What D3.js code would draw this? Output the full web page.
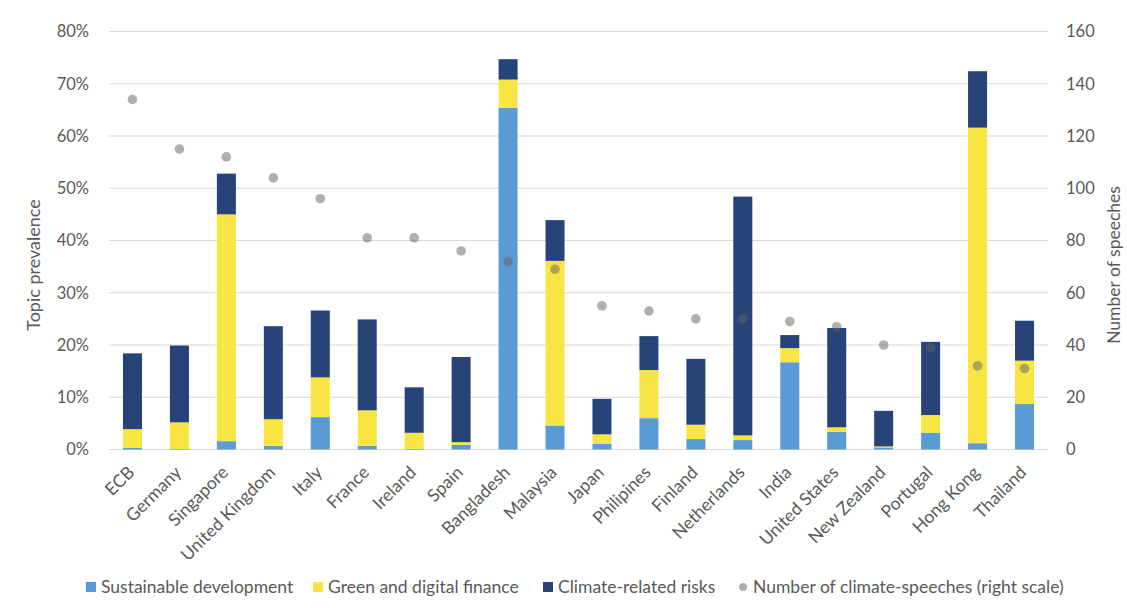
<!DOCTYPE html>
<html>
<head>
<meta charset="utf-8">
<script src="https://cdn.jsdelivr.net/npm/d3@7"></script>
<style>
  body { margin: 0; background: #fff; }
  svg text { font-family: "Lato", "Open Sans", sans-serif; fill: #595959; }
</style>
</head>
<body>
<div id="chart"></div>
<script>
// categories and series (% topic prevalence, right axis = number of speeches)
var countries = ["ECB", "Germany", "Singapore", "United Kingdom", "Italy", "France", "Ireland", "Spain",
  "Bangladesh", "Malaysia", "Japan", "Philipines", "Finland", "Netherlands", "India", "United States",
  "New Zealand", "Portugal", "Hong Kong", "Thailand"];
var sustainable = [0.3, 0.1, 1.6, 0.7, 6.2, 0.7, 0.1, 0.9, 65.4, 4.6, 1.1, 6.0, 2.0, 1.8, 16.7, 3.4, 0.4, 3.2, 1.2, 8.7];
var greenDigital = [3.6, 5.1, 43.4, 5.1, 7.6, 6.8, 3.1, 0.5, 5.4, 31.5, 1.8, 9.2, 2.75, 0.9, 2.7, 0.85, 0.2, 3.4, 60.4, 8.3];
var climateRisk = [14.5, 14.7, 7.8, 17.8, 12.8, 17.4, 8.7, 16.3, 3.9, 7.8, 6.8, 6.5, 12.6, 45.7, 2.5, 19.0, 6.8, 14.0, 10.8, 7.65];
var speeches = [134, 115, 112, 104, 96, 81, 81, 76, 72, 69, 55, 53, 50, 50, 49, 47, 40, 39, 32, 31];
var leftTicks = [0, 10, 20, 30, 40, 50, 60, 70, 80];
var rightTicks = [0, 20, 40, 60, 80, 100, 120, 140, 160];

var seriesNames = ["Sustainable development", "Green and digital finance", "Climate-related risks"];
var seriesColors = ["#5b9bd5", "#f8e543", "#264478"];

var width = 1127, height = 608;
var margin = { top: 31.5, bottom: 158.5, left: 109, right: 79 };

var svg = d3.select("#chart").append("svg")
  .attr("width", width)
  .attr("height", height);

var x = d3.scaleBand()
  .domain(countries)
  .range([margin.left, width - margin.right])
  .paddingInner(0.595)
  .paddingOuter(0.2975);

var y = d3.scaleLinear().domain([0, 80]).range([height - margin.bottom, margin.top]);
var y2 = d3.scaleLinear().domain([0, 160]).range([height - margin.bottom, margin.top]);

// gridlines
svg.append("g")
  .selectAll("line")
  .data(leftTicks)
  .enter().append("line")
  .attr("x1", margin.left)
  .attr("x2", width - margin.right)
  .attr("y1", d => y(d))
  .attr("y2", d => y(d))
  .attr("stroke", "#d9d9d9")
  .attr("stroke-width", 1);

// stacked bars
var rows = countries.map((c, i) => ({ country: c, s0: sustainable[i], s1: greenDigital[i], s2: climateRisk[i] }));
var stack = d3.stack().keys(["s0", "s1", "s2"])(rows);

svg.append("g")
  .selectAll("g")
  .data(stack)
  .enter().append("g")
  .attr("fill", (d, i) => seriesColors[i])
  .selectAll("rect")
  .data(d => d)
  .enter().append("rect")
  .attr("x", d => x(d.data.country))
  .attr("width", x.bandwidth())
  .attr("y", d => y(d[1]))
  .attr("height", d => y(d[0]) - y(d[1]));

// speeches dots (right scale), semi-transparent
svg.append("g")
  .selectAll("circle")
  .data(speeches)
  .enter().append("circle")
  .attr("cx", (d, i) => x(countries[i]) + x.bandwidth() / 2)
  .attr("cy", d => y2(d))
  .attr("r", 4.8)
  .attr("fill", "#626262")
  .attr("fill-opacity", 0.5);

// left axis
var yAxis = svg.append("g")
  .attr("transform", `translate(${margin.left - 17},0)`)
  .call(d3.axisLeft(y).tickValues(leftTicks).tickFormat(d => d + "%").tickSize(0));
yAxis.select(".domain").remove();
yAxis.selectAll("text").attr("font-size", 16.5).attr("fill", "#595959");

// right axis
var y2Axis = svg.append("g")
  .attr("transform", `translate(${width - margin.right + 15},0)`)
  .call(d3.axisRight(y2).tickValues(rightTicks).tickSize(0));
y2Axis.select(".domain").remove();
y2Axis.selectAll("text").attr("font-size", 16.5).attr("fill", "#595959");

// x axis labels, rotated
var xAxis = svg.append("g")
  .attr("transform", `translate(0,${height - margin.bottom})`)
  .call(d3.axisBottom(x).tickSize(0));
xAxis.select(".domain").remove();
xAxis.selectAll("text")
  .attr("font-size", 17.5)
  .attr("fill", "#595959")
  .style("text-anchor", "end")
  .attr("x", 0)
  .attr("y", 0)
  .attr("dy", 0)
  .attr("transform", "translate(3,24) rotate(-45)");

// axis titles
var titleY = 265;
svg.append("text")
  .attr("transform", `translate(40,${titleY}) rotate(-90)`)
  .attr("text-anchor", "middle")
  .attr("font-size", 18)
  .text("Topic prevalence");

svg.append("text")
  .attr("transform", `translate(1120,${titleY}) rotate(-90)`)
  .attr("text-anchor", "middle")
  .attr("font-size", 17.5)
  .text("Number of speeches");

// legend
var legendY = 587;
var legend = svg.append("g");
var legendX = [86, 313, 543];
seriesNames.forEach(function(name, i) {
  legend.append("rect")
    .attr("x", legendX[i])
    .attr("y", legendY - 5)
    .attr("width", 10)
    .attr("height", 10)
    .attr("fill", seriesColors[i]);
  legend.append("text")
    .attr("x", legendX[i] + 15)
    .attr("y", legendY)
    .attr("dy", "0.35em")
    .attr("font-size", 17.5)
    .text(name);
});
legend.append("circle")
  .attr("cx", 743)
  .attr("cy", legendY)
  .attr("r", 4)
  .attr("fill", "#626262")
  .attr("fill-opacity", 0.5);
legend.append("text")
  .attr("x", 753)
  .attr("y", legendY)
  .attr("dy", "0.35em")
  .attr("font-size", 17.5)
  .text("Number of climate-speeches (right scale)");
</script>
</body>
</html>
